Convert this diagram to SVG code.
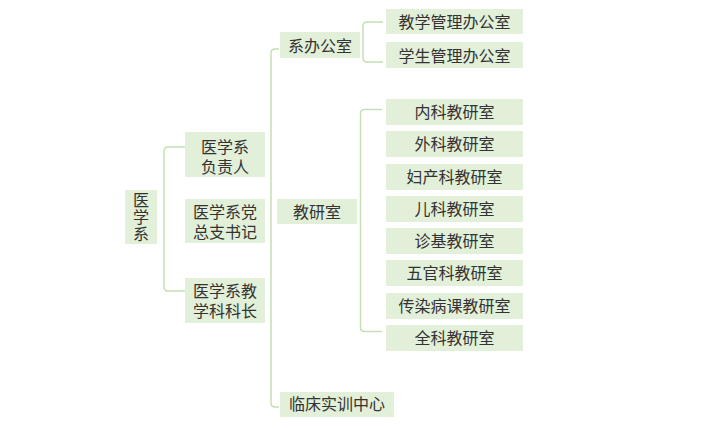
<svg xmlns="http://www.w3.org/2000/svg" width="711" height="428" viewBox="0 0 711 428">
<style>
.box{fill:#e2efd9;stroke:none}
.t{font-family:"Liberation Sans","Noto Sans CJK SC",sans-serif;font-size:16px;fill:#333333;text-anchor:middle}
.c{fill:none;stroke:#c5e0b4;stroke-width:1.5}
</style>
<rect width="711" height="428" fill="#ffffff"/>
<g id="connectors">
<path class="c" d="M185,147 H168 Q164,147 164,151 V287 Q164,291 168,291 H185"/>
<path class="c" d="M279,49 H275 Q271,49 271,53 V403 Q271,407 275,407 H279"/>
<path class="c" d="M383,22 H367 Q363,22 363,26 V58 Q363,62 367,62 H383"/>
<path class="c" d="M382,109.5 H364.5 Q360.5,109.5 360.5,113.5 V327.5 Q360.5,331.5 364.5,331.5 H382"/>
</g>
<g id="root">
<rect class="box" x="125" y="190" width="32" height="54"/>
<text class="t" x="141" y="206">医</text>
<text class="t" x="141" y="223">学</text>
<text class="t" x="141" y="240">系</text>
</g>
<g id="fuzeren">
<rect class="box" x="185" y="132" width="80" height="45"/>
<text class="t" x="225" y="153">医学系</text>
<text class="t" x="225" y="172.5">负责人</text>
</g>
<g id="shuji">
<rect class="box" x="185" y="199" width="80" height="44"/>
<text class="t" x="225" y="218">医学系党</text>
<text class="t" x="225" y="237.5">总支书记</text>
</g>
<g id="kezhang">
<rect class="box" x="185" y="278" width="80" height="45"/>
<text class="t" x="225" y="297">医学系教</text>
<text class="t" x="225" y="316.5">学科科长</text>
</g>
<g id="xiban">
<rect class="box" x="280" y="32" width="80" height="26"/>
<text class="t" x="320" y="51.5">系办公室</text>
</g>
<g id="jiaoyanshi">
<rect class="box" x="277" y="199" width="80" height="25"/>
<text class="t" x="317" y="218">教研室</text>
</g>
<g id="linchuang">
<rect class="box" x="280" y="392" width="114" height="25"/>
<text class="t" x="337" y="409.5">临床实训中心</text>
</g>
<g id="jiaoxue">
<rect class="box" x="386" y="9" width="137" height="25"/>
<text class="t" x="454.5" y="28">教学管理办公室</text>
</g>
<g id="xuesheng">
<rect class="box" x="386" y="42" width="137" height="26"/>
<text class="t" x="454.5" y="62">学生管理办公室</text>
</g>
<g id="neike">
<rect class="box" x="386" y="99" width="137" height="26"/>
<text class="t" x="454.5" y="118">内科教研室</text>
</g>
<g id="waike">
<rect class="box" x="386" y="131" width="137" height="26"/>
<text class="t" x="454.5" y="150">外科教研室</text>
</g>
<g id="fuchan">
<rect class="box" x="386" y="164" width="137" height="26"/>
<text class="t" x="454.5" y="183">妇产科教研室</text>
</g>
<g id="erke">
<rect class="box" x="386" y="196" width="137" height="26"/>
<text class="t" x="454.5" y="215">儿科教研室</text>
</g>
<g id="zhenji">
<rect class="box" x="386" y="228" width="137" height="26"/>
<text class="t" x="454.5" y="247">诊基教研室</text>
</g>
<g id="wuguan">
<rect class="box" x="386" y="260" width="137" height="26"/>
<text class="t" x="454.5" y="279">五官科教研室</text>
</g>
<g id="chuanran">
<rect class="box" x="386" y="293" width="137" height="26"/>
<text class="t" x="454.5" y="312">传染病课教研室</text>
</g>
<g id="quanke">
<rect class="box" x="386" y="325" width="137" height="26"/>
<text class="t" x="454.5" y="344">全科教研室</text>
</g>
</svg>
